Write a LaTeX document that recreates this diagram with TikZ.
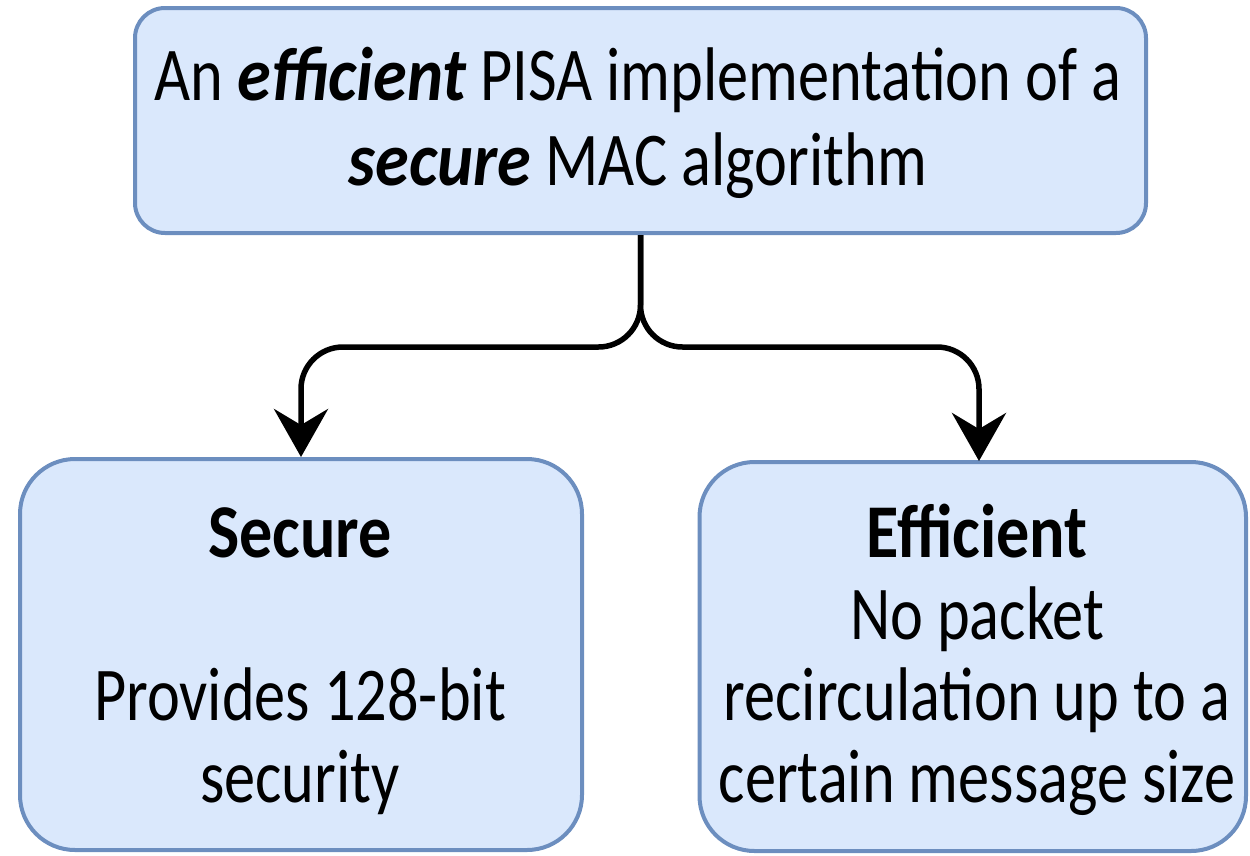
\documentclass[tikz,border=0pt]{standalone}
\usepackage{fontspec}
\setmainfont{Carlito}[FakeStretch=0.82]
\newfontfamily\keyfont{Carlito}[FakeStretch=0.9]
\newfontfamily\headfont{Carlito}[FakeStretch=0.87]
\usetikzlibrary{arrows.meta}
\definecolor{boxfill}{HTML}{DAE8FC}
\definecolor{boxline}{HTML}{6C8EBF}
\tikzset{
  box/.style={draw=boxline, fill=boxfill, line width=4pt, inner sep=0pt},
  txt/.style={anchor=base, inner sep=0pt, font=\fontsize{76}{82}\selectfont},
  link/.style={line width=5.5pt, rounded corners=42pt,
    -{Stealth[length=48pt,width=54pt,inset=16pt]}},
}
\newcommand{\kw}[1]{{\keyfont\bfseries\itshape #1}}
\newcommand{\hd}[1]{{\headfont\bfseries #1}}
\begin{document}
\begin{tikzpicture}[x=1pt,y=-1pt]
\useasboundingbox (0,0) rectangle (1250,855);

% boxes
\node[box, minimum width=1011pt, minimum height=225pt, rounded corners=30pt] (top) at (640.5,120.5) {};
\node[box, minimum width=562pt, minimum height=391pt, rounded corners=55pt] (left) at (301,654.5) {};
\node[box, minimum width=546.5pt, minimum height=389pt, rounded corners=55pt] (right) at (972.75,656.5) {};

% texts
\node[txt] (t1) at (638,100) {An \kw{efficient} PISA implementation of a};
\node[txt] (t2) at (638,185) {\kw{secure} MAC algorithm};

\node[txt] (l1) at (300,557) {\hd{Secure}};
\node[txt] (l2) at (300,720) {Provides 128-bit};
\node[txt] (l3) at (300,802) {security};

\node[txt] (r1) at (977,557) {\hd{Efficient}};
\node[txt] (r2) at (977,639) {No packet};
\node[txt] (r3) at (977,720) {recirculation up to a};
\node[txt] (r4) at (977,802) {certain message size};

% connectors
\coordinate (fork) at (640.5,347);
\coordinate (rtip) at (979,461);
\draw[link] (top.south) -- (fork) -| (left.north);
\draw[link] (top.south) -- (fork) -| (rtip);
\end{tikzpicture}
\end{document}
